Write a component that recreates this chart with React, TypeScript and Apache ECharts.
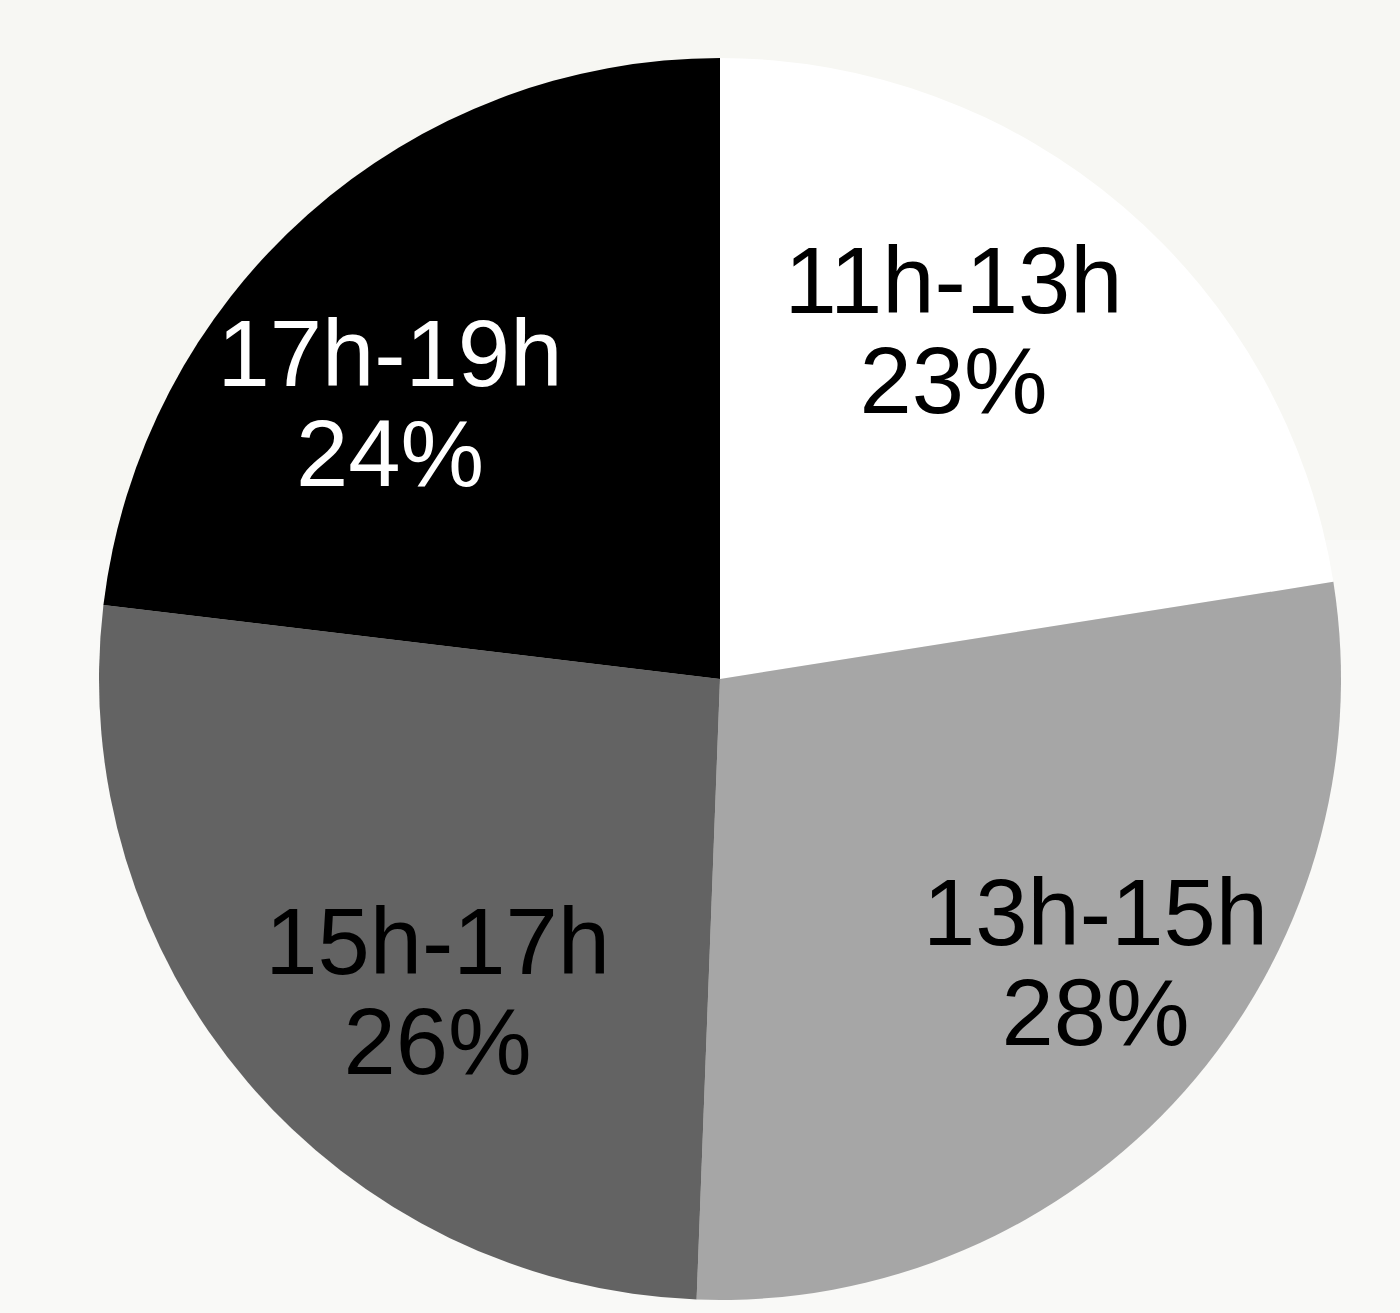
import React, { useEffect, useRef } from "react";
import * as echarts from "echarts";

const categories = ["11h-13h", "13h-15h", "15h-17h", "17h-19h"];
const values = [22.5, 28.1, 26.3, 23.1];
const percentLabels = ["23%", "28%", "26%", "24%"];
const sliceColors = ["#ffffff", "#a6a6a6", "#636363", "#000000"];
const labelColors = ["#000000", "#000000", "#000000", "#ffffff"];
const labelOffsets = [
  [30, -110],
  [141, 75],
  [-44, 109],
  [-122, -41],
];

export default function App() {
  const ref = useRef<HTMLDivElement>(null);
  useEffect(() => {
    if (!ref.current) return;
    const chart = echarts.init(ref.current, undefined, { renderer: "svg" });
    chart.setOption({
      animation: false,
      series: [
        {
          type: "pie",
          center: [720, 679],
          radius: [0, 621],
          startAngle: 90,
          clockwise: true,
          avoidLabelOverlap: false,
          itemStyle: { borderWidth: 0 },
          label: {
            show: true,
            position: "inside",
            fontFamily: "Liberation Sans",
            fontSize: 94,
            lineHeight: 100,
            formatter: (p: any) => `${p.name}\n${percentLabels[p.dataIndex]}`,
          },
          labelLine: { show: false },
          emphasis: { disabled: true },
          data: categories.map((name, i) => ({
            name,
            value: values[i],
            itemStyle: { color: sliceColors[i] },
            label: { color: labelColors[i], offset: labelOffsets[i] },
          })),
        },
      ],
    });
    return () => chart.dispose();
  }, []);
  return (
    <div
      style={{
        position: "fixed",
        left: 0,
        top: 0,
        width: 1400,
        height: 1313,
        background: "linear-gradient(to bottom, #f7f7f3 0px, #f7f7f3 540px, #f9f9f7 540px, #f9f9f7 1313px)",
      }}
    >
      <div ref={ref} style={{ width: 1400, height: 1313 }} />
    </div>
  );
}
